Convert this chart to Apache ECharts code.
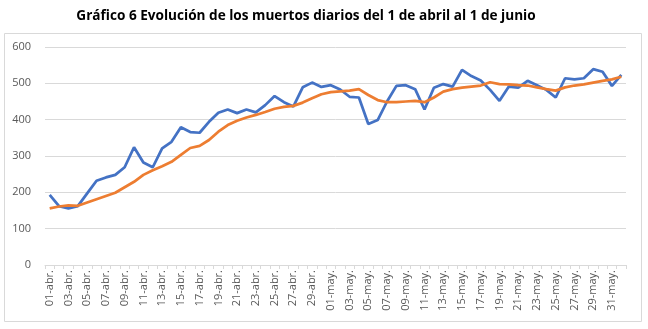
<!DOCTYPE html>
<html>
<head>
<meta charset="utf-8">
<script src="https://cdn.jsdelivr.net/npm/echarts@6/dist/echarts.min.js"></script>
<style>html,body{margin:0;padding:0;background:#fff}#c{width:648px;height:329px}</style>
</head>
<body>
<div id="c"></div>
<script>
const titleText = 'Gráfico 6 Evolución de los muertos diarios del 1 de abril al 1 de junio';
const aprDays = 30, mayDays = 31;
const categories = [];
for (let d = 1; d <= aprDays; d++) categories.push(String(d).padStart(2,'0') + '-abr.');
for (let d = 1; d <= mayDays; d++) categories.push(String(d).padStart(2,'0') + '-may.');
categories.push('01-jun.');

const dailyDeaths = [193,162,156,162,197,232,241,248,269,324,
  282,269,321,339,379,366,364,394,419,428,
  418,428,420,440,465,448,436,489,502,490,
  495,483,463,461,388,399,450,493,495,484,
  428,488,498,491,537,520,508,482,452,491,
  488,507,495,482,461,514,511,514,539,532,
  493,523];
const movingAvg = [156,161,164,163,172,181,190,199,214,229,
  248,261,272,284,303,322,328,344,367,385,
  397,406,413,421,430,435,438,447,459,470,
  476,478,480,484,468,454,448,448,450,452,
  448,461,477,484,488,491,494,503,498,497,
  495,494,489,484,480,489,494,497,502,507,
  511,518];

const chart = echarts.init(document.getElementById('c'), null, {renderer:'canvas'});
chart.setOption({
  animation: false,
  title: {
    text: titleText, left: 306, top: 4, textAlign: 'center',
    textStyle: {fontFamily: 'Open Sans', fontWeight: 'bold', fontSize: 13.6, color: '#000'}
  },
  graphic: [{
    type: 'rect', shape: {x: 4.5, y: 33.5, width: 637, height: 288},
    style: {fill: 'none', stroke: '#d9d9d9', lineWidth: 1}, z: -1
  }],
  grid: {left: 45, right: 22, top: 47, bottom: 64},
  xAxis: {
    type: 'category', data: categories, boundaryGap: true,
    axisLine: {lineStyle: {color: '#d9d9d9'}},
    axisTick: {show: true, interval: 0, length: 4, lineStyle: {color: '#d9d9d9'}},
    axisLabel: {interval: 1, rotate: 90, fontSize: 11, color: '#595959', fontFamily: 'Open Sans', margin: 5}
  },
  yAxis: {
    type: 'value', min: 0, max: 600, interval: 100,
    axisLine: {show: false}, axisTick: {show: false},
    splitLine: {lineStyle: {color: '#d9d9d9'}},
    axisLabel: {fontSize: 11, color: '#595959', fontFamily: 'Open Sans', margin: 14}
  },
  series: [
    {type: 'line', data: dailyDeaths, showSymbol: false, lineStyle: {color: '#4472C4', width: 2.75}, itemStyle: {color: '#4472C4'}},
    {type: 'line', data: movingAvg, showSymbol: false, lineStyle: {color: '#ED7D31', width: 2.75}, itemStyle: {color: '#ED7D31'}}
  ]
});
chart.setOption({title: {left: 301}});
</script>
</body>
</html>
